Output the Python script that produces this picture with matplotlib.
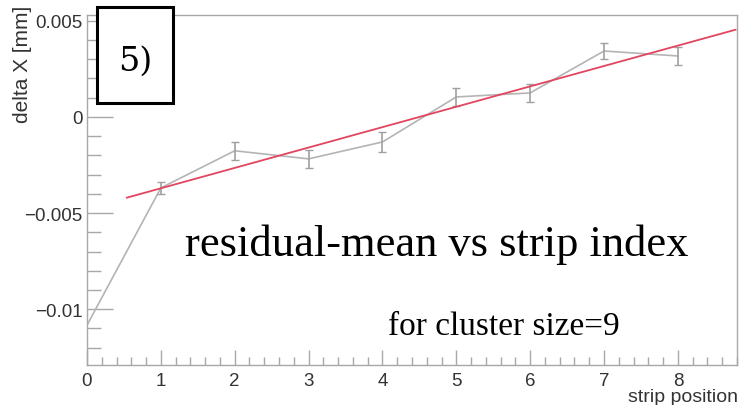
import numpy as np
import matplotlib
matplotlib.use("Agg")
import matplotlib.pyplot as plt
from matplotlib.ticker import MultipleLocator
from matplotlib.patches import Rectangle

# residual mean per strip, cluster size 9
strip = [0, 1, 2, 3, 4, 5, 6, 7, 8]
resid = [-0.01083, -0.00369, -0.00176, -0.00218, -0.00130, 0.00104, 0.00125, 0.00343, 0.00317]
resid_err = [0.0, 0.0003, 0.00048, 0.00046, 0.00052, 0.00047, 0.00045, 0.0004, 0.00048]

# linear fit p0 + p1*x drawn over the fit range
fit_p0 = -0.00477
fit_p1 = 0.00106
fit_range = [0.54, 8.78]

plt.rcParams['font.family'] = ['Liberation Sans', 'DejaVu Sans']

fig = plt.figure(figsize=(7.41, 4.06), dpi=100)
ax = fig.add_axes([0.1174, 0.0985, 0.8772, 0.862])

ax.plot(strip, resid, '-', color='#b4b4b4', lw=1.2, zorder=2)
ax.errorbar(strip[1:], resid[1:], yerr=resid_err[1:], fmt='none',
            ecolor='#a0a0a0', elinewidth=1.2, capsize=3, capthick=1.0, zorder=2)

xf = np.array(fit_range)
ax.plot(xf, fit_p0 + fit_p1 * xf, '-', color='#e2455e', lw=1.3, zorder=3)

ax.set_xlim(0, 8.8)
ax.set_ylim(-0.0129, 0.0053)

ax.xaxis.set_major_locator(MultipleLocator(1))
ax.xaxis.set_minor_locator(MultipleLocator(0.2))
ax.yaxis.set_minor_locator(MultipleLocator(0.001))
yt = [-0.01, -0.005, 0, 0.005]
ax.set_yticks(yt)
ax.set_yticklabels(['\u22120.01', '\u22120.005', '0', '0.005'])

for sp in ax.spines.values():
    sp.set_color('#a8a8a8')
    sp.set_linewidth(1.0)
ax.tick_params(which='both', direction='in', width=1.0, color='#a8a8a8',
               labelsize=13.5, labelcolor='#333333', top=False, right=False)
ax.tick_params(axis='y', which='major', length=19, pad=3)
ax.tick_params(axis='y', which='minor', length=10)
ax.tick_params(axis='x', which='major', length=11, pad=5)
ax.tick_params(axis='x', which='minor', length=6)

fig.text(0.030, 0.985, 'delta X [mm]', rotation=90, ha='center', va='top',
         fontsize=15, color='#333333')
fig.text(0.996, 0.0, 'strip position', ha='right', va='bottom',
         fontsize=14, color='#333333')

# panel tag
fig.patches.append(Rectangle((97 / 741, 1 - 104 / 406), 76 / 741, 96 / 406,
                             transform=fig.transFigure, fill=True, facecolor='white',
                             edgecolor='black', lw=2.2, zorder=5))
fig.text(135 / 741, 1 - 62 / 406, '5)', ha='center', va='center', fontsize=24,
         family='DejaVu Serif', zorder=6)

ax.text(0.538, 0.346, 'residual-mean vs strip index', transform=ax.transAxes,
        ha='center', va='center', fontsize=32, family='Liberation Serif', color='black')
ax.text(0.641, 0.111, 'for cluster size=9', transform=ax.transAxes,
        ha='center', va='center', fontsize=24, family='Liberation Serif', color='black')

fig.savefig('out.png', dpi=100)
